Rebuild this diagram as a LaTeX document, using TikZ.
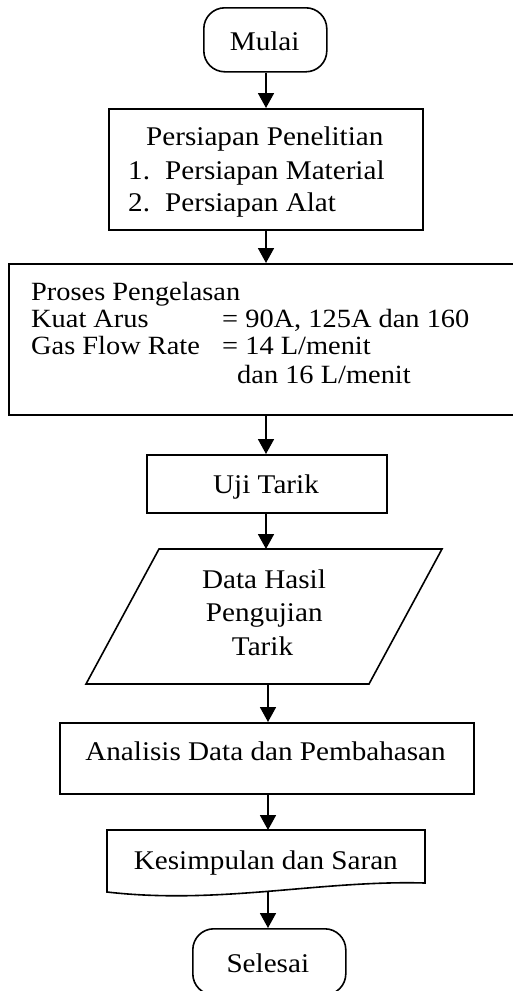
\documentclass[tikz,border=0pt]{standalone}
\usepackage{fontspec}
\newfontfamily\tnr{Liberation Serif}[FakeStretch=1.08]
\usetikzlibrary{arrows.meta}
\begin{document}
\begin{tikzpicture}[x=1pt,y=-1pt,
  box/.style={draw, line width=1.6pt, inner sep=0pt, anchor=north west},
  term/.style={box, rounded corners=21pt},
  shp/.style={draw, line width=1.6pt, line join=miter},
  txt/.style={inner sep=0pt, font=\tnr\fontsize{27}{32}\selectfont, anchor=base},
  ltxt/.style={txt, anchor=base west},
  ptxt/.style={inner sep=0pt, font=\tnr\fontsize{26.3}{28}\selectfont, anchor=base west},
  arr/.style={line width=1.8pt, -{Triangle[length=15pt,width=16pt]}}]
\useasboundingbox (0,0) rectangle (513,991);
\clip (0,0) rectangle (513,991);
\coordinate (ax) at (266,0);
\coordinate (bx) at (268,0);
% shapes
\node[term, minimum width=123, minimum height=64] (mulai) at (203,7) {};
\node[box, minimum width=314, minimum height=121] (pers) at (108,108) {};
\node[box, minimum width=530, minimum height=151] (proses) at (8,263) {};
\node[box, minimum width=240, minimum height=58] (uji) at (146,454) {};
\coordinate (dtl) at (159,549);
\coordinate (dtr) at (442,549);
\coordinate (dbr) at (369,684);
\coordinate (dbl) at (86,684);
\coordinate (dataN) at (266,549);
\coordinate (dataS) at (268,684);
\draw[shp] (dtl) -- (dtr) -- (dbr) -- (dbl) -- cycle;
\node[box, minimum width=414, minimum height=71] (anal) at (59,722) {};
\coordinate (ktl) at (107,830);
\coordinate (ktr) at (425,830);
\coordinate (kbr) at (425,883);
\coordinate (kbl) at (107,892);
\coordinate (kesN) at (268,830);
\coordinate (kesS) at (268,892);
\draw[shp] (kbl) -- (ktl) -- (ktr) -- (kbr) .. controls (320,880) and (220,905) .. (kbl) -- cycle;
\node[term, minimum width=153, minimum height=66] (sel) at (192,928) {};
% connectors
\draw[arr] (mulai.south -| ax) -- (pers.north -| ax);
\draw[arr] (pers.south -| ax) -- (proses.north -| ax);
\draw[arr] (proses.south -| ax) -- (uji.north -| ax);
\draw[arr] (uji.south -| ax) -- (dataN);
\draw[arr] (dataS) -- (anal.north -| bx);
\draw[arr] (anal.south -| bx) -- (kesN);
\draw[arr] (kesS) -- (sel.north -| bx);
% texts
\node[txt] (tmulai) at (264.7,50) {Mulai};
\node[ltxt] (tp1) at (146,145.7) {Persiapan Penelitian};
\node[ltxt] (tp2) at (128,179) {\makebox[37pt][l]{1.}Persiapan Material};
\node[ltxt] (tp3) at (128,211.7) {\makebox[37pt][l]{2.}Persiapan Alat};
\node[ptxt] (tq1) at (31,300) {Proses Pengelasan};
\node[ptxt] (tq2) at (31,327) {\makebox[191pt][l]{Kuat Arus}= 90A, 125A dan 160};
\node[ptxt] (tq3) at (31,354) {\makebox[191pt][l]{Gas Flow Rate}= 14 L/menit};
\node[ptxt] (tq4) at (237,383) {dan 16 L/menit};
\node[txt] (tuji) at (266,493) {Uji Tarik};
\node[txt] (td1) at (264,588.3) {Data Hasil};
\node[txt] (td2) at (264.3,621.7) {Pengujian};
\node[txt] (td3) at (262.5,655) {Tarik};
\node[txt] (tanal) at (265.5,760) {Analisis Data dan Pembahasan};
\node[txt] (tkes) at (265.8,869) {Kesimpulan dan Saran};
\node[txt] (tsel) at (267.8,972) {Selesai};
\end{tikzpicture}
\end{document}
